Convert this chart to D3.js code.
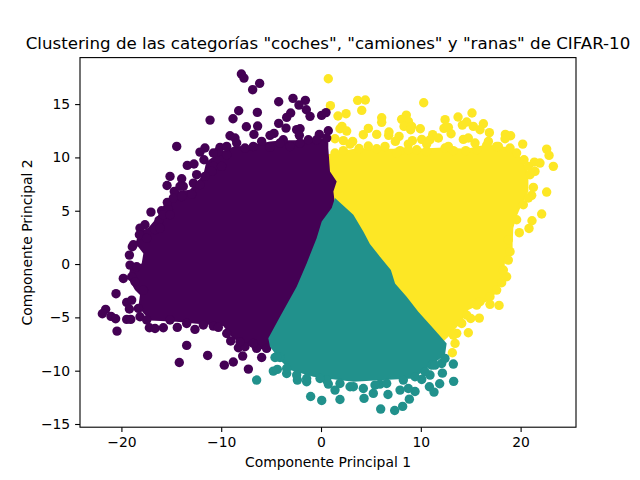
<!DOCTYPE html>
<html>
<head>
<meta charset="utf-8">
<script src="https://cdn.jsdelivr.net/npm/d3@7"></script>
<style>
html, body { margin: 0; padding: 0; background: #fff; }
svg { display: block; }
text { font-family: "DejaVu Sans", sans-serif; fill: #000; }
</style>
</head>
<body>
<div id="chart"></div>
<script>
const xTicks = [-20, -10, 0, 10, 20];
const yTicks = [-15, -10, -5, 0, 5, 10, 15];
const titleText = 'Clustering de las categorías "coches", "camiones" y "ranas" de CIFAR-10';
const xLabel = "Componente Principal 1";
const yLabel = "Componente Principal 2";

// dense centre of each cluster, too packed to read single points: outline only
const purpleCore = [[-4.5,-7.5],[-5.95,-8.0],[-7.45,-7.6],[-8.79,-7.0],[-9.8,-5.8],[-12.46,-5.6],[-14.46,-5.4],[-17.14,-5.3],[-17.8,-4.6],[-18.3,-4.0],[-18.14,-2.91],[-18.64,-2.44],[-19.3,-1.35],[-19.1,-0.25],[-17.97,0.06],[-17.8,1.0],[-18.6,1.94],[-18.2,3.0],[-17.3,3.4],[-16.47,4.31],[-15.47,6.03],[-14.47,6.81],[-13.13,6.97],[-11.79,8.38],[-11.5,9.6],[-10.12,10.5],[-8.79,11.0],[-7.12,11.13],[-5.11,11.5],[-3.78,11.6],[-2.1,11.6],[-0.1,11.9],[0.73,11.4],[0.73,10.88],[0.9,8.69],[1.57,7.75],[1.24,6.81],[1.4,5.56],[1.0,4.0],[0.5,2.0],[-0.5,-0.2],[-1.5,-2.5],[-3,-5.2]];
const tealCore = [[1.4,6.2],[1.07,5.25],[0.07,4.0],[-0.44,2.43],[-1.44,0.06],[-2.44,-2.13],[-4.11,-4.94],[-5.28,-6.97],[-5.11,-7.76],[-4.11,-9.0],[-3.11,-9.94],[-0.77,-10.57],[0.57,-10.73],[3.24,-11.04],[6.25,-10.88],[9.25,-10.73],[10.59,-9.79],[12.42,-8.54],[12.59,-7.44],[11.26,-6.04],[9.75,-4.47],[8.58,-3.07],[7.42,-1.82],[7.0,-0.56],[5.91,0.69],[4.9,1.87],[4.24,3.06],[3.24,4.62]];
const yellowCore = [[0.5,10.25],[2.24,10.63],[3.74,10.88],[5.58,10.82],[7.92,10.82],[9.59,10.82],[12.26,10.94],[14.6,10.82],[16.6,11.2],[18.94,10.94],[20.1,9.94],[20.78,8.53],[20.78,6.81],[20.1,5.56],[19.6,4.47],[19.27,3.37],[19.2,1.94],[19.2,1.16],[18.44,0.22],[18.27,-1.19],[17.77,-2.44],[16.93,-3.38],[14.76,-4.32],[13.93,-5.57],[12.76,-6.82],[12.0,-7.5],[9.0,-5.0],[7.0,-3.0],[6.0,-1.0],[4.3,1.0],[2.6,3.5],[0.9,5.5],[0.5,7.0],[0.5,8.4]];

// points that stand apart around the edges, then the rim of each dense centre
const purplePoints = [[-7.98,17.82],[-7.72,17.44],[-6.15,16.94],[-6.85,16.35],[-4.24,15.22],[-2.81,15.54],[-1.57,15.35],[-2.21,14.91],[-1.47,14.47],[-1.1,13.85],[0.06,13.94],[0.5,14.2],[-8.25,14.38],[-6.38,14.22],[-8.82,13.63],[-11.12,13.5],[-7.48,12.88],[-6.35,12.94],[-6.72,12.16],[-3.04,14.16],[-3.44,13.75],[-4.24,13.19],[-3.51,12.75],[-4.71,12.25],[-5.11,12.07],[-2.1,12.69],[-2.44,12.6],[-2.17,12.07],[-3.78,11.66],[-0.17,12.16],[0.73,12.5],[-14.46,11.03],[-9.12,12.03],[-8.62,11.82],[-11.63,10.88],[-12.13,10.5],[-10.12,10.94],[-10.29,10.56],[-13.4,9.25],[-12.73,9.38],[-11.73,9.78],[-12.46,8.38],[-15.13,8.22],[-13.96,8.0],[-15.43,7.37],[-14.7,6.81],[-13.8,7.28],[-17.04,4.87],[-15.4,5.78],[-15.97,5.0],[-15.3,5.09],[-16.23,4.09],[-17.64,3.69],[-18.14,3.37],[-18.2,2.75],[-16.64,3.22],[-12.96,6.56],[-19.14,-0.1],[-19.81,-1.35],[-18.97,-1.19],[-20.54,-2.78],[-19.47,-3.6],[-18.97,-3.38],[-19.2,-4.22],[-21.58,-4.25],[-21.91,-4.66],[-21.04,-4.91],[-20.58,-5.13],[-19.47,-5.19],[-19.07,-5.19],[-20.44,-6.29],[-18.14,-4.94],[-17.2,-5.97],[-16.63,-6.04],[-15.8,-5.97],[-14.4,-5.94],[-12.63,-6.13],[-10.79,-5.82],[-10.29,-5.94],[-13.46,-7.63],[-14.2,-9.23],[-11.36,-8.57],[-9.69,-9.48],[-8.79,-9.19],[-7.28,-9.85],[-7.85,-8.63],[-9.05,-7.22],[-8.28,-7.85],[-7.62,-7.76],[-5.95,-8.76],[-6.45,-7.91],[-19.2,0.84],[-18.91,1.62],
    [-8.45,11.35],[-7.62,10.88],[-6.78,11.03],[-5.95,11.5],[-5.11,10.94],[-4.11,11.35],[-3.11,11.03],[-2.1,11.35],[-1.27,11.66],[-0.44,11.66],[0.57,11.82],[-9.45,10.25],[-10.79,9.16],[-9.96,9.16],[-10.96,8.69],[-11.63,8.22],[-12.79,7.59],[-12.13,7.44],[-14.13,7.28],[-14.8,6.19],[-13.96,6.34],[-15.8,4.62],[-15.13,4.62],[-16.13,3.37],[-17.47,2.43],[-18.8,1.81],[-10.79,10.41],[-9.45,11.03],[-18.47,-0.25],[-18.64,-1.66],[-17.8,-2.44],[-18.3,-4.16],[-17.47,-5.25],[-15.13,-5.25],[-13.46,-5.57],[-11.79,-5.72],[-9.45,-6.51],[-8.12,-7.29],[-6.78,-7.44],[-5.45,-7.91]];
const tealPoints = [[13.26,-9.38],[13.29,-11.0],[12.16,-10.23],[11.89,-11.23],[10.86,-11.51],[11.32,-12.01],[10.09,-10.82],[9.42,-11.95],[8.85,-12.67],[8.18,-13.35],[7.38,-13.73],[5.98,-13.6],[6.71,-12.23],[4.31,-12.6],[5.24,-12.13],[1.9,-12.7],[0.07,-12.79],[7.92,-11.82],[8.75,-11.67],[2.91,-11.51],[1.4,-11.82],[0.73,-11.26],[5.91,-11.26],[10.92,-10.41],[12.09,-9.32],[11.09,-9.48],[-6.45,-10.88],[-4.78,-10.04],[-4.38,-9.88],[-1.04,-12.42],[-4.61,-8.76],[-4.11,-8.76],[-3.44,-10.26],[-2.37,-10.88],[-1.44,-11.04],
    [0.57,-10.88],[1.9,-11.2],[3.24,-11.5],[4.24,-11.67],[5.41,-11.35],[6.58,-11.2],[8.25,-10.88],[9.42,-10.57],[10.42,-10.1],[11.42,-9.48],[12.42,-8.85],[-4.44,-8.7],[-3.44,-9.79],[-2.44,-10.41],[-1.44,-10.73],[-0.1,-10.73]];
const yellowPoints = [[0.73,17.38],[0.94,14.85],[3.67,15.35],[4.44,15.38],[4.08,14.41],[10.29,15.13],[1.7,13.88],[2.51,14.1],[6.08,13.72],[6.08,13.29],[8.55,13.97],[8.08,13.57],[8.75,13.38],[8.32,12.91],[9.08,12.91],[9.95,12.69],[8.98,12.6],[12.43,13.54],[13.73,13.79],[15.13,14.16],[14.6,13.32],[14.16,13.03],[15.26,12.91],[16.27,13.16],[15.93,12.6],[12.32,12.72],[12.76,12.82],[13.03,12.22],[16.87,12.32],[2.1,12.91],[1.9,12.69],[2.57,12.47],[4.74,12.72],[4.24,12.13],[5.58,12.16],[6.81,12.38],[6.78,12.07],[7.82,11.97],[7.45,11.5],[1.4,11.75],[2.24,11.57],[3.17,11.5],[2.91,11.25],[4.74,11.07],[9.15,11.57],[8.75,11.25],[10.09,11.69],[11.19,12.13],[11.76,11.82],[10.92,11.66],[14.26,11.69],[14.76,11.82],[15.43,11.35],[16.77,11.5],[18.47,12.16],[19.0,12.03],[18.44,11.75],[20.21,11.25],[17.77,11.03],[22.61,10.78],[22.85,10.19],[23.28,9.16],[21.38,9.56],[21.94,9.47],[22.61,6.75],[22.11,4.69],[21.14,4.06],[20.84,3.34],[19.87,2.94],[21.28,7.19],[21.11,6.44],[21.44,8.69],[18.94,1.16],[18.6,-1.19],[18.1,-1.75],[17.84,-3.88],[16.93,-3.78],[15.93,-3.53],[15.86,-5.07],[15.0,-5.1],[14.76,-6.44],[13.43,-7.44],[13.16,-8.32],[13.6,-6.5],
    [1.4,10.41],[2.24,10.63],[3.81,10.83],[5.58,10.81],[6.41,11.03],[7.92,10.63],[8.75,10.72],[9.59,10.72],[10.59,10.56],[12.43,10.88],[13.26,10.63],[14.5,10.63],[15.6,10.72],[16.6,11.13],[17.6,11.03],[18.94,10.88],[19.6,10.41],[20.34,9.78],[20.78,9.16],[20.94,8.38],[20.78,6.19],[20.27,5.56],[19.6,4.15],[18.77,2.28],[10.59,11.25],[12.76,11.03],[7.58,10.41],[17.6,-2.44],[16.93,-3.07],[15.6,-3.85],[14.6,-4.79],[14.1,-5.57],[13.26,-6.66],[18.27,-0.56],[18.77,0.37]];

const width = 640;
const height = 480;
const margin = { top: 57.6, right: 64, bottom: 52.8, left: 80 };
const purple = "#440154";
const teal = "#21918c";
const yellow = "#fde725";

const svg = d3.select("#chart")
    .append("svg")
    .attr("width", width)
    .attr("height", height);

const x = d3.scaleLinear()
    .domain([-24.15, 25.55])
    .range([margin.left, width - margin.right]);
const y = d3.scaleLinear()
    .domain([-15.3, 19.36])
    .range([height - margin.bottom, margin.top]);

const outline = d3.line().x(d => x(d[0])).y(d => y(d[1])).curve(d3.curveLinearClosed);

[[yellowCore, yellow, yellowPoints], [purpleCore, purple, purplePoints], [tealCore, teal, tealPoints]].forEach(([core, color, points]) => {
    svg.append("path")
        .attr("d", outline(core))
        .attr("fill", color);
    svg.append("g")
        .selectAll("circle")
        .data(points)
        .enter()
        .append("circle")
        .attr("cx", d => x(d[0]))
        .attr("cy", d => y(d[1]))
        .attr("r", 4.7)
        .attr("fill", color);
});

// frame
svg.append("rect")
    .attr("x", margin.left)
    .attr("y", margin.top)
    .attr("width", width - margin.left - margin.right)
    .attr("height", height - margin.top - margin.bottom)
    .attr("fill", "none")
    .attr("stroke", "#000")
    .attr("stroke-width", 1.1);

const xAxis = svg.append("g")
    .attr("transform", `translate(0,${height - margin.bottom})`)
    .call(d3.axisBottom(x).tickValues(xTicks).tickSize(4.9).tickPadding(4.9));
const yAxis = svg.append("g")
    .attr("transform", `translate(${margin.left},0)`)
    .call(d3.axisLeft(y).tickValues(yTicks).tickSize(4.9).tickPadding(4.9));

[xAxis, yAxis].forEach(axis => {
    axis.select(".domain").remove();
    axis.selectAll("line").attr("stroke", "#000").attr("stroke-width", 1.1);
    axis.selectAll("text")
        .style("font-family", '"DejaVu Sans", sans-serif')
        .style("font-size", "13.9px");
});

svg.append("text")
    .attr("x", (margin.left + width - margin.right) / 2)
    .attr("y", 49)
    .attr("text-anchor", "middle")
    .style("font-size", "16.67px")
    .text(titleText);

svg.append("text")
    .attr("x", (margin.left + width - margin.right) / 2)
    .attr("y", 467)
    .attr("text-anchor", "middle")
    .style("font-size", "13.9px")
    .text(xLabel);

svg.append("text")
    .attr("transform", `translate(32,${(margin.top + height - margin.bottom) / 2}) rotate(-90)`)
    .attr("text-anchor", "middle")
    .style("font-size", "13.9px")
    .text(yLabel);
</script>
</body>
</html>
